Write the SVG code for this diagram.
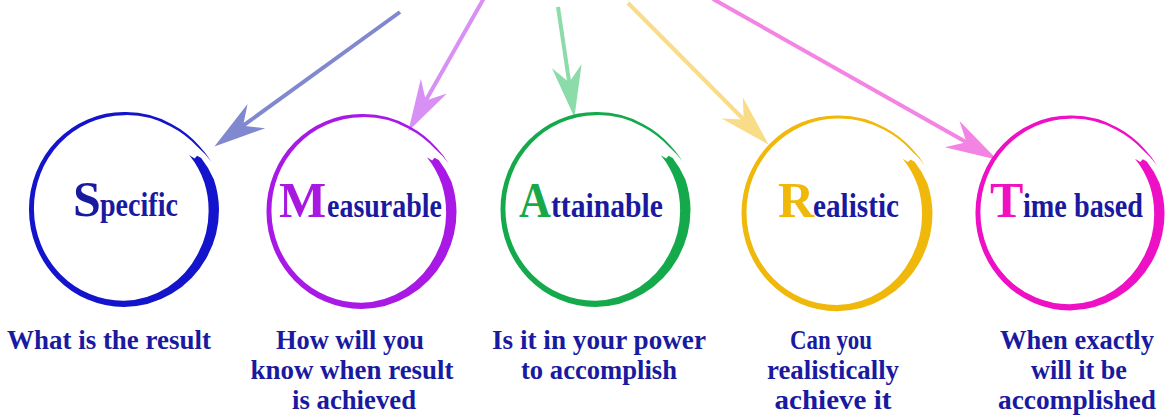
<svg xmlns="http://www.w3.org/2000/svg" xmlns:xlink="http://www.w3.org/1999/xlink" width="1167" height="419" viewBox="0 0 1167 419">
  <style>
    .cap { font-family: "Liberation Serif", "Times New Roman", serif; font-weight: bold; font-size: 50px; }
    .word { font-family: "Liberation Serif", "Times New Roman", serif; font-weight: bold; font-size: 34px; fill: #1a1aa0; }
    .label { font-family: "Liberation Serif", "Times New Roman", serif; font-weight: bold; font-size: 28px; fill: #1a1aa0; }
    .arrow { fill: none; stroke-width: 4; stroke-linecap: butt; }
  </style>
  <defs>
    <!-- brush-stroke ring, centred on the origin; thick on the right, tapering over the top -->
    <path id="ring" d="M65.67,-53.18 L71,-50 L73.5,-52.6 L77.58,-50.38
      A 94 94 0 0 1 90.35,-29.36
      A 95.5 95.5 0 0 1 95.5,0
      A 95.5 95.5 0 0 1 82.70,47.75
      A 95.5 95.5 0 0 1 47.75,82.70
      A 95.5 95.5 0 0 1 0,95.5
      A 95.5 95.5 0 0 1 -67.53,67.53
      A 95.5 95.5 0 0 1 -95.5,0
      A 95.5 95.5 0 0 1 -67.53,-67.53
      A 95.5 95.5 0 0 1 0,-95.5
      A 96 96 0 0 1 48.25,-83.57
      A 97 97 0 0 1 75.07,-62.99
      A 98 98 0 0 1 87.85,-46.72
      A 97 97 0 0 0 73.54,-61.71
      A 95 95 0 0 0 47,-81.40
      A 93 93 0 0 0 0,-92.5
      A 92 92 0 0 0 -64.70,-64.70
      A 91 91 0 0 0 -90.5,0
      A 90.5 90.5 0 0 0 -63.64,63.64
      A 90 90 0 0 0 0,89.5
      A 89 89 0 0 0 44,76.21
      A 87 87 0 0 0 74.48,43
      A 85.5 85.5 0 0 0 85,0
      A 85 85 0 0 0 80.84,-26.27
      A 84.5 84.5 0 0 0 65.67,-53.18 Z"/>
    <!-- swept-back arrowheads; origin sits at the notch where the shaft ends -->
    <marker id="head-blue" markerUnits="userSpaceOnUse" orient="auto" refX="0" refY="0" markerWidth="60" markerHeight="40" viewBox="-14 -14 44 28" overflow="visible">
      <path d="M26,0 L-12,-11 L0,0 L-12,11 Z" fill="#8088d0"/>
    </marker>
    <marker id="head-violet" markerUnits="userSpaceOnUse" orient="auto" refX="0" refY="0" markerWidth="60" markerHeight="40" viewBox="-14 -14 44 28" overflow="visible">
      <path d="M26,0 L-12,-11 L0,0 L-12,11 Z" fill="#d890f4"/>
    </marker>
    <marker id="head-green" markerUnits="userSpaceOnUse" orient="auto" refX="0" refY="0" markerWidth="60" markerHeight="40" viewBox="-14 -14 44 28" overflow="visible">
      <path d="M26,0 L-12,-11 L0,0 L-12,11 Z" fill="#8cdcaa"/>
    </marker>
    <marker id="head-yellow" markerUnits="userSpaceOnUse" orient="auto" refX="0" refY="0" markerWidth="60" markerHeight="40" viewBox="-14 -14 44 28" overflow="visible">
      <path d="M26,0 L-12,-11 L0,0 L-12,11 Z" fill="#f8dc88"/>
    </marker>
    <marker id="head-pink" markerUnits="userSpaceOnUse" orient="auto" refX="0" refY="0" markerWidth="60" markerHeight="40" viewBox="-14 -14 44 28" overflow="visible">
      <path d="M26,0 L-12,-11 L0,0 L-12,11 Z" fill="#f484e4"/>
    </marker>
  </defs>

  <rect width="1167" height="419" fill="#ffffff"/>

  <!-- connectors -->
  <g id="connectors">
    <line class="arrow" x1="400" y1="12" x2="243.1" y2="125.7" stroke="#8088d0" marker-end="url(#head-blue)"/>
    <line class="arrow" x1="484" y1="-2" x2="425.8" y2="100.4" stroke="#d890f4" marker-end="url(#head-violet)"/>
    <line class="arrow" x1="558" y1="7" x2="569.2" y2="82.3" stroke="#8cdcaa" marker-end="url(#head-green)"/>
    <line class="arrow" x1="628" y1="3" x2="743.7" y2="119.5" stroke="#f8dc88" marker-end="url(#head-yellow)"/>
    <line class="arrow" x1="713" y1="-1" x2="966.4" y2="142.2" stroke="#f484e4" marker-end="url(#head-pink)"/>
  </g>

  <!-- S: specific -->
  <g id="node-specific">
    <use xlink:href="#ring" href="#ring" transform="translate(124,209.5) scale(0.995,1.02)" fill="#1414cc"/>
    <text class="cap" x="73" y="216" fill="#1a1aa0">S</text>
    <text class="word" x="100" y="216" textLength="78" lengthAdjust="spacingAndGlyphs">pecific</text>
    <text class="label" x="7" y="349" textLength="204" lengthAdjust="spacingAndGlyphs">What is the result</text>
  </g>

  <!-- M: measurable -->
  <g id="node-measurable">
    <use xlink:href="#ring" href="#ring" transform="translate(361.5,211.5) scale(0.995,1.02)" fill="#a819e6"/>
    <text class="cap" x="279" y="217" fill="#a818e0">M</text>
    <text class="word" x="327" y="217" textLength="115" lengthAdjust="spacingAndGlyphs">easurable</text>
    <text class="label" x="350" y="349" text-anchor="middle" textLength="148" lengthAdjust="spacingAndGlyphs">How will you</text>
    <text class="label" x="352" y="379" text-anchor="middle" textLength="203" lengthAdjust="spacingAndGlyphs">know when result</text>
    <text class="label" x="354" y="409" text-anchor="middle" textLength="124" lengthAdjust="spacingAndGlyphs">is achieved</text>
  </g>

  <!-- A: attainable -->
  <g id="node-attainable">
    <use xlink:href="#ring" href="#ring" transform="translate(595.5,209.5) scale(0.995,1.02)" fill="#14aa4c"/>
    <text class="cap" x="519" y="217" fill="#18a84a" textLength="32" lengthAdjust="spacingAndGlyphs">A</text>
    <text class="word" x="551" y="217" textLength="112" lengthAdjust="spacingAndGlyphs">ttainable</text>
    <text class="label" x="599" y="349" text-anchor="middle" textLength="214" lengthAdjust="spacingAndGlyphs">Is it in your power</text>
    <text class="label" x="599" y="379" text-anchor="middle" textLength="156" lengthAdjust="spacingAndGlyphs">to accomplish</text>
  </g>

  <!-- R: realistic -->
  <g id="node-realistic">
    <use xlink:href="#ring" href="#ring" transform="translate(837,213.3) scale(1,1.025)" fill="#f0b80a"/>
    <text class="cap" x="778" y="217" fill="#f0b808">R</text>
    <text class="word" x="813" y="217" textLength="86" lengthAdjust="spacingAndGlyphs">ealistic</text>
    <text class="label" x="831" y="349" text-anchor="middle" textLength="82" lengthAdjust="spacingAndGlyphs">Can you</text>
    <text class="label" x="833" y="379" text-anchor="middle" textLength="132" lengthAdjust="spacingAndGlyphs">realistically</text>
    <text class="label" x="833" y="409" text-anchor="middle" textLength="117" lengthAdjust="spacingAndGlyphs">achieve it</text>
  </g>

  <!-- T: time based -->
  <g id="node-time-based">
    <use xlink:href="#ring" href="#ring" transform="translate(1070,213) scale(0.99,1.02)" fill="#ee10c4"/>
    <text class="cap" x="990" y="217" fill="#f010c0">T</text>
    <text class="word" x="1023" y="217" textLength="120" lengthAdjust="spacingAndGlyphs">ime based</text>
    <text class="label" x="1077" y="349" text-anchor="middle" textLength="154" lengthAdjust="spacingAndGlyphs">When exactly</text>
    <text class="label" x="1079" y="379" text-anchor="middle" textLength="96" lengthAdjust="spacingAndGlyphs">will it be</text>
    <text class="label" x="1077" y="409" text-anchor="middle" textLength="158" lengthAdjust="spacingAndGlyphs">accomplished</text>
  </g>
</svg>
